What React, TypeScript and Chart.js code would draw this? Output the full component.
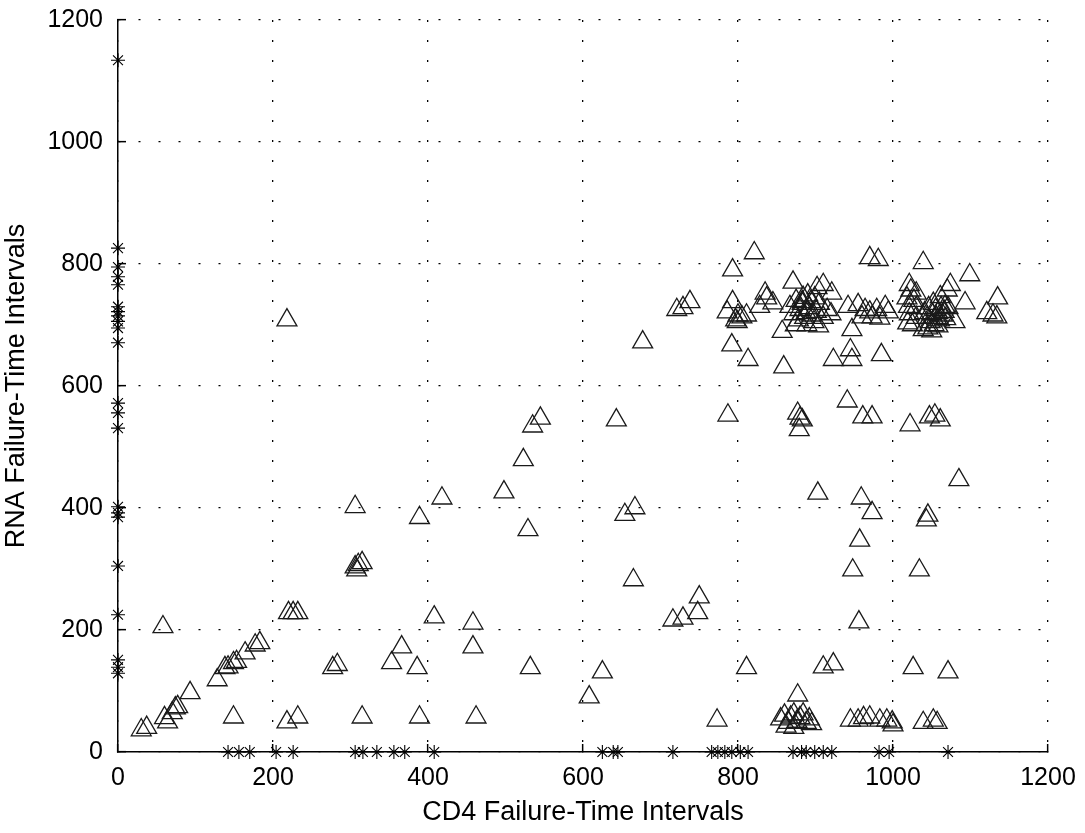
import React, { useEffect, useRef } from 'react';
import { Chart, registerables } from 'chart.js';

Chart.register(...registerables);

// Triangles: (CD4 interval, RNA interval)
const triX = [
  30, 37, 58, 60, 64, 70, 74, 77, 93, 128, 138, 142, 149, 153, 164, 177, 183, 149,
  218, 232, 220, 226, 232, 277, 283, 315, 306, 310, 315, 308, 306, 218,
  353, 366, 386, 389, 389, 408, 418, 458, 458, 462,
  498, 523, 529, 535, 545, 532,
  608, 625, 643, 654, 667, 665, 677,
  716, 729, 748, 750, 721, 729, 738,
  773, 787, 792, 793, 793, 813, 811, 821,
  786, 800, 805, 811, 797, 799, 828, 835, 845, 837,
  857, 859, 871, 902, 910, 921, 890, 899, 883,
  867, 872, 875, 878, 880, 883, 886, 889, 892, 895, 898, 901, 905, 910, 915, 920, 874, 884, 894, 904, 888,
  877, 880, 883, 879, 877,
  855, 860, 865, 868, 872, 876, 880, 884, 888, 892, 862, 872, 895,
  910, 923, 903, 923, 941, 945, 947, 947,
  942, 955, 964, 970, 979, 990, 994, 960, 973, 983,
  948, 956, 957, 959, 961, 973, 973, 970, 981, 985,
  945, 955, 962, 970, 983, 992, 999, 1000,
  1022, 1026, 1034,
  1021, 1023, 1030, 1018, 1027, 1020, 1030, 1021, 1030, 1025, 1039, 1019,
  1039, 1043, 1045, 1047, 1054, 1061, 1039, 1052, 1057,
  1041, 1044, 1046, 1048, 1050, 1052, 1053, 1055, 1056, 1058, 1060, 1062, 1064, 1066, 1068, 1045, 1050, 1058, 1061, 1067,
  1074, 1070, 1071, 1080, 1071, 1085, 1093, 1099, 1121, 1129, 1134, 1135,
];
const triY = [
  36, 40, 205, 56, 49, 64, 72, 74, 97, 118, 138, 139, 146, 148, 162, 175, 179, 57,
  49, 57, 228, 228, 228, 138, 143, 57, 303, 307, 310, 298, 402, 708,
  146, 172, 138, 384, 57, 221, 416, 211, 172, 57,
  426, 479, 364, 534, 547, 138,
  90, 131, 544, 389, 400, 282, 672,
  216, 219, 228, 254, 725, 728, 738,
  52, 552, 667, 790, 738, 643, 138, 818,
  721, 716, 713, 716, 708, 705, 730, 752, 736, 744,
  689, 631, 770, 761, 766, 752, 749, 744, 738,
  730, 718, 740, 708, 725, 735, 712, 700, 728, 716, 705, 722, 735, 712, 725, 718, 700, 745, 738, 698, 720,
  555, 547, 544, 528, 93,
  54, 60, 48, 57, 62, 50, 56, 62, 48, 54, 42, 40, 46,
  139, 144, 424, 643, 575, 659, 643, 692,
  730, 733, 725, 721, 725, 730, 721, 713, 713, 711,
  298, 213, 347, 416, 549, 549, 392, 810, 807, 651,
  52, 52, 56, 57, 52, 52, 49, 44,
  536, 138, 298,
  766, 757, 752, 744, 740, 730, 728, 718, 712, 700, 692, 703,
  802, 380, 388, 549, 552, 544, 48, 52, 48,
  720, 712, 728, 705, 718, 735, 700, 725, 712, 720, 708, 728, 716, 722, 710, 695, 690, 698, 746, 730,
  766, 757, 728, 705, 131, 446, 736, 782, 720, 716, 713, 744,
];

// Asterisks on the RNA axis (CD4 = 0)
const yAxisStarY = [1134, 826, 795, 779, 766, 730, 722, 715, 706, 695, 671, 572, 556, 531, 402, 392, 385, 305, 225, 151, 139, 129];
// Asterisks on the CD4 axis (RNA = 0)
const xAxisStarX = [142, 156, 170, 204, 226, 306, 316, 334, 356, 370, 408, 625, 639, 645, 716, 766, 774, 783, 792, 803, 813, 871, 882, 888, 899, 910, 921, 982, 995, 1071];

const axisMin = 0;
const axisMax = 1200;
const axisStep = 200;
const xTitle = 'CD4 Failure-Time Intervals';
const yTitle = 'RNA Failure-Time Intervals';

const FONT = "'Liberation Sans', Arial, Helvetica, sans-serif";

export default function App() {
  const ref = useRef<HTMLCanvasElement>(null);
  useEffect(() => {
    document.body.style.margin = '0';
    const canvas = ref.current;
    if (!canvas) return;
    const zeroPad = (s: any) => {
      s.paddingTop = 0;
      s.paddingBottom = 0;
      s.paddingLeft = 0;
      s.paddingRight = 0;
    };
    const scaleCommon = (title: string) => ({
      type: 'linear' as const,
      min: axisMin,
      max: axisMax,
      ticks: {
        stepSize: axisStep,
        font: { family: FONT, size: 25 },
        color: '#000',
        maxRotation: 0,
        autoSkip: false,
        callback: (v: any) => String(v),
      },
      grid: {
        color: '#000',
        lineWidth: 1.3,
        drawTicks: true,
        tickLength: -8,
        tickBorderDash: [],
        tickWidth: 1.5,
      },
      border: { display: true, color: '#000', width: 1.5, dash: [2, 18] },
      title: {
        display: true,
        text: title,
        color: '#000',
        font: { family: FONT, size: 27 },
      },
    });
    const xs: any = scaleCommon(xTitle);
    xs.ticks.padding = 19;
    xs.title.padding = { top: 0, bottom: 4 };
    xs.afterFit = (s: any) => { s.height = 81; zeroPad(s); };
    const ys: any = scaleCommon(yTitle);
    ys.ticks.padding = 23;
    ys.title.padding = { top: 0, bottom: 0 };
    ys.afterFit = (s: any) => { s.width = 118; zeroPad(s); };

    const starStyle = {
      pointStyle: 'star',
      pointRadius: 7,
      pointBorderColor: '#000',
      pointBackgroundColor: 'rgba(0,0,0,0)',
      pointBorderWidth: 1.1,
      clip: false,
    };

    const chart = new Chart(canvas, {
      type: 'scatter',
      data: {
        datasets: [
          {
            data: triX.map((x, i) => ({ x, y: triY[i] })),
            pointStyle: 'triangle',
            pointRadius: 11.5,
            pointBorderColor: '#1a1a1a',
            pointBackgroundColor: 'rgba(0,0,0,0)',
            pointBorderWidth: 1.3,
            clip: false,
          } as any,
          { data: yAxisStarY.map((y) => ({ x: 0, y })), ...starStyle } as any,
          { data: xAxisStarX.map((x) => ({ x, y: 0 })), ...starStyle } as any,
        ],
      },
      options: {
        animation: false,
        responsive: false,
        maintainAspectRatio: false,
        layout: { padding: { top: 20, right: 37, left: 0, bottom: 0 } },
        plugins: { legend: { display: false }, tooltip: { enabled: false } },
        scales: { x: xs, y: ys },
      },
    });
    return () => chart.destroy();
  }, []);
  return <canvas ref={ref} width={1085} height={833} style={{ display: 'block' }} />;
}
